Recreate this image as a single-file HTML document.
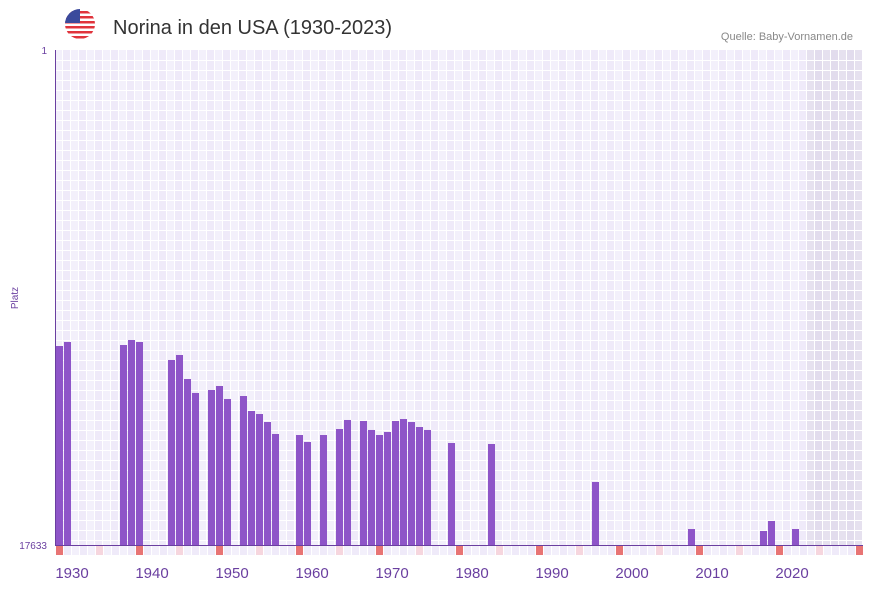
<!DOCTYPE html>
<html><head><meta charset="utf-8"><style>
body{margin:0;background:#fff;font-family:"Liberation Sans",sans-serif;}
svg text{font-family:"Liberation Sans",sans-serif;}
</style></head><body>
<svg id="c" width="873" height="587" xmlns="http://www.w3.org/2000/svg">
<defs><clipPath id="fc"><circle cx="80" cy="24" r="15"/></clipPath></defs>
<g clip-path="url(#fc)">
<rect x="65" y="9" width="30" height="30" fill="#fff"/>
<rect x="65" y="11" width="30" height="2.5" fill="#e0343c"/>
<rect x="65" y="16" width="30" height="2.5" fill="#e0343c"/>
<rect x="65" y="21" width="30" height="2.5" fill="#e0343c"/>
<rect x="65" y="26" width="30" height="2.5" fill="#e0343c"/>
<rect x="65" y="31" width="30" height="2.5" fill="#e0343c"/>
<rect x="65" y="36" width="30" height="2.5" fill="#e0343c"/>
<rect x="65" y="9" width="15" height="14" fill="#3b4a9c"/>
</g>
<text x="113" y="34" font-size="20" fill="#333">Norina in den USA (1930-2023)</text>
<text x="853" y="40" font-size="11" fill="#888" text-anchor="end">Quelle: Baby-Vornamen.de</text>
<g id="plot"></g>
<text x="47" y="54" font-size="10" fill="#6a3fa0" text-anchor="end">1</text>
<text x="47" y="549" font-size="10" fill="#6a3fa0" text-anchor="end">17633</text>
<text transform="translate(18,298) rotate(-90)" font-size="10" fill="#6a3fa0" text-anchor="middle">Platz</text>
</svg>
<script>
const years=[1928,1929,1936,1937,1938,1942,1943,1944,1945,1947,1948,1949,1951,1952,1953,1954,1955,1958,1959,1961,1963,1964,1966,1967,1968,1969,1970,1971,1972,1973,1974,1977,1982,1995,2007,2016,2017,2020];
const ranks=[10545,10402,10509,10331,10402,11043,10865,11720,12218,12112,11969,12432,12326,12860,12967,13252,13679,13715,13964,13715,13501,13180,13216,13536,13715,13608,13216,13145,13252,13430,13536,14000,14035,15389,17063,17134,16778,17063];
const xTicks=[1930,1940,1950,1960,1970,1980,1990,2000,2010,2020];
const startYear=1928, endYear=2028, maxRank=17633;
const L=55,T=50,B=545,W=8;
const xs=y=>L+(y-startYear)*W;
const ys=r=>T+(r-1)/(maxRank-1)*(B-T);
const NS='http://www.w3.org/2000/svg';
const g=document.getElementById('plot');
function mk(t,a){const e=document.createElementNS(NS,t);for(const k in a)e.setAttribute(k,a[k]);g.appendChild(e);return e;}
for(let y=startYear;y<=endYear;y++){
  const i=y-startYear;
  const fill=y>=2022?(i%2?'#e2dced':'#e6e1ef'):(i%2?'#efeaf9':'#f3f0fb');
  const c=mk('rect',{x:xs(y),y:T,width:W,height:B-T,fill:fill});
  
  
  mk('rect',{x:xs(y)+W-1,y:T,width:1,height:B-T,fill:'#fff'});
  const d=y-1928;
  let mf=null;
  if(d%10===0)mf='#e87474';else if(d%5===0)mf='#f6d6de';
  const m=mk('rect',{x:xs(y)+1,y:546,width:W-1,height:9,fill:mf||(i%2?'#efeaf9':'#f3f0fb')});
  
  
}
for(let yy=T+10;yy<B;yy+=10)mk('rect',{x:L,y:yy,width:808,height:1,fill:'#fff'});
years.forEach((y,k)=>{
  const top=ys(ranks[k]);
  const b=mk('rect',{x:xs(y)+1,y:top,width:W-1,height:B-top,fill:'#8e55c8'});
  
  
});
mk('rect',{x:L,y:T,width:1,height:B-T,fill:'#6a3fa0'});
mk('rect',{x:L,y:B,width:808,height:1,fill:'#6a3fa0'});
xTicks.forEach(t=>{
  const e=mk('text',{x:xs(t)+1,y:578,'font-size':15,fill:'#6a3fa0','text-anchor':'middle'});
  e.textContent=t;
  
  
});
</script>
</body></html>
